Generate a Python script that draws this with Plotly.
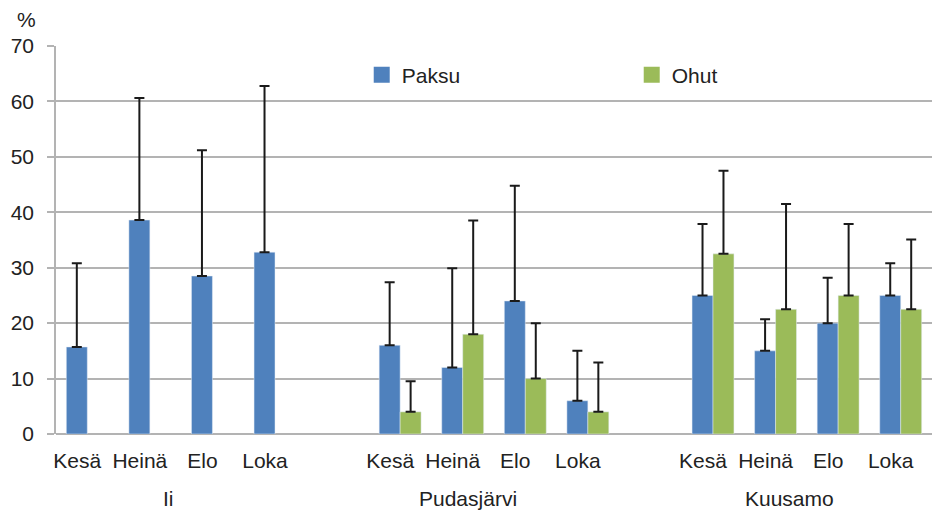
import plotly.graph_objects as go

# Data
regions = ["Ii", "Pudasjärvi", "Kuusamo"]
months = ["Kesä", "Heinä", "Elo", "Loka"]

paksu_ii = [15.7, 38.6, 28.5, 32.8]
paksu_pud = [16.0, 12.0, 24.0, 6.0]
paksu_kuu = [25.0, 15.0, 20.0, 25.0]
paksu_err_ii = [15.1, 22.0, 22.7, 30.0]
paksu_err_pud = [11.4, 17.9, 20.8, 9.0]
paksu_err_kuu = [12.9, 5.7, 8.2, 5.8]

ohut_ii = [None, None, None, None]
ohut_pud = [4.0, 18.0, 10.0, 4.0]
ohut_kuu = [32.5, 22.5, 25.0, 22.5]
ohut_err_ii = [None, None, None, None]
ohut_err_pud = [5.5, 20.5, 10.0, 8.9]
ohut_err_kuu = [15.0, 19.0, 12.9, 12.6]

BLUE = "#4F81BD"
GREEN = "#9BBB59"
GRID = "#b3b3b3"
FONT = "Liberation Sans, Arial, sans-serif"

# Category axis: 4 months per region, one empty slot between regions
cats, ticks = [], []
for i, reg in enumerate(regions):
    if i > 0:
        cats.append("gap%d" % i)
    for m in months:
        cats.append(reg + "|" + m)
        ticks.append(m)


def with_gaps(*parts):
    out = []
    for i, p in enumerate(parts):
        if i > 0:
            out.append(None)
        out.extend(p)
    return out


paksu = with_gaps(paksu_ii, paksu_pud, paksu_kuu)
paksu_err = with_gaps(paksu_err_ii, paksu_err_pud, paksu_err_kuu)
ohut = with_gaps(ohut_ii, ohut_pud, ohut_kuu)
ohut_err = with_gaps(ohut_err_ii, ohut_err_pud, ohut_err_kuu)

err_style = dict(type="data", symmetric=False, color="#1a1a1a", thickness=2, width=5)

fig = go.Figure()
fig.add_trace(go.Bar(
    x=cats, y=paksu, name="Paksu", marker_color=BLUE, showlegend=False,
    error_y=dict(array=paksu_err, arrayminus=[0] * len(cats), **err_style),
))
fig.add_trace(go.Bar(
    x=cats, y=ohut, name="Ohut", marker_color=GREEN, showlegend=False,
    error_y=dict(array=ohut_err, arrayminus=[0] * len(cats), **err_style),
))
# legend-only entries with bigger square swatches
for name, col in [("Paksu", BLUE), ("Ohut", GREEN)]:
    fig.add_trace(go.Scatter(x=[None], y=[None], mode="markers", name=name,
                             marker=dict(symbol="square", size=21, color=col)))

month_cats = [c for c in cats if not c.startswith("gap")]

fig.update_layout(
    width=932, height=513,
    margin=dict(l=56, r=0, t=46, b=79),
    paper_bgcolor="white", plot_bgcolor="white",
    barmode="group", bargap=0.33, bargroupgap=0,
    font=dict(family=FONT, size=21, color="#222222"),
    legend=dict(orientation="h", x=0.349, y=0.925, xanchor="left", yanchor="middle",
                font=dict(size=21), itemsizing="trace", itemwidth=30, entrywidth=225,
                bgcolor="rgba(0,0,0,0)"),
    xaxis=dict(type="category", categoryorder="array", categoryarray=cats,
               tickmode="array", tickvals=month_cats, ticktext=ticks,
               showgrid=False, ticks="", showline=False, zeroline=False,
               ticklabelshift=-10, ticklabelstandoff=12, tickfont=dict(size=21)),
    yaxis=dict(range=[0, 70], dtick=10, showgrid=True, gridcolor=GRID, gridwidth=1.5,
               zeroline=True, zerolinecolor=GRID, zerolinewidth=1.5,
               showline=True, linecolor=GRID, linewidth=1.5,
               ticks="outside", ticklen=7, tickcolor=GRID, tickwidth=1.5,
               ticklabelstandoff=9, tickfont=dict(size=21)),
)

# Region labels under the month labels
for pos, reg in zip([1.29, 6.08, 11.23], regions):
    fig.add_annotation(x=pos, y=0, xref="x", yref="paper", yshift=-64,
                       text=reg, showarrow=False, font=dict(size=21), yanchor="middle")

# "%" unit label above the y axis
fig.add_annotation(x=-30 / 876, y=1 + 27 / 388, xref="paper", yref="paper",
                   text="%", showarrow=False, xanchor="center", yanchor="middle",
                   font=dict(size=21))

fig.write_html("out.html", config={"displayModeBar": False},
               post_script="document.body.style.margin='0';")
